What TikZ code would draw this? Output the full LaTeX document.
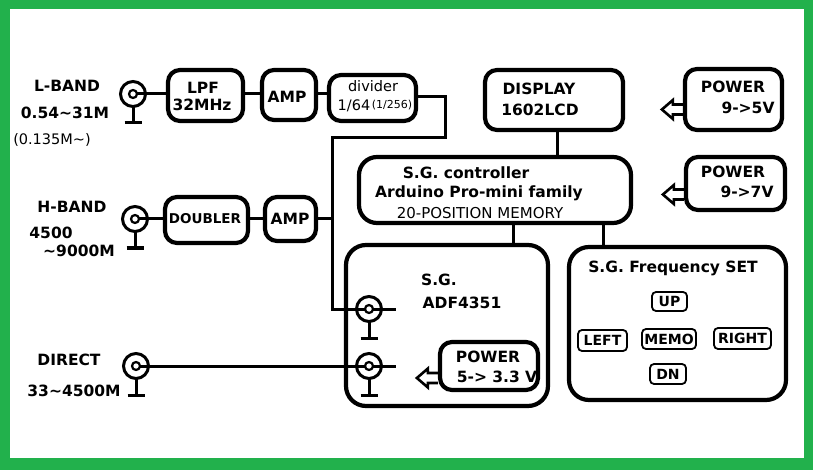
\documentclass[tikz,border=0pt]{standalone}
\usepackage{fontspec}
\setmainfont{DejaVu Sans}
\definecolor{framegreen}{RGB}{34,177,76}
\begin{document}
\begin{tikzpicture}[x=1pt,y=-1pt,
  bx/.style={draw, line width=4.2pt, rounded corners=12pt, inner sep=0pt},
  bigbx/.style={bx, rounded corners=20pt},
  btn/.style={draw, line width=1.8pt, rounded corners=4pt, inner sep=0pt, font=\fontsize{14}{16}\selectfont\bfseries},
  wire/.style={line width=3pt},
  harrow/.style={line width=2.6pt, line join=miter},
  lbl/.style={inner sep=0pt, font=\fontsize{15.5}{18}\selectfont\bfseries},
  lblr/.style={inner sep=0pt, font=\fontsize{14.5}{16}\selectfont},
  bncconn/.pic={
    \draw[line width=3pt] (0,0) circle[radius=12.5pt];
    \draw[line width=3pt] (0,12) -- (0,29);
    \draw[line width=3pt] (-8.5,29) -- (8.5,29);
    \draw[line width=2.2pt, fill=white] (0,0) circle[radius=4pt];
  }]
\useasboundingbox (0,0) rectangle (813,470);
\fill[framegreen] (0,0) rectangle (813,470);
\fill[white] (10,9) rectangle (804,458);

% connectors positions
\coordinate (c1) at (133,94);
\coordinate (c2) at (135,219);
\coordinate (c3) at (136,366);
\coordinate (c4) at (369,309);
\coordinate (c5) at (369,366);
\coordinate (j1) at (445,138);
\coordinate (j2) at (332,138);

% boxes
\node[bx, minimum width=75pt, minimum height=51pt] (lpf) at (205.5,95.5) {};
\node[bx, minimum width=54pt, minimum height=50pt] (amp1) at (289,95) {};
\node[bx, minimum width=87pt, minimum height=46pt] (div) at (372.5,98) {};
\node[bx, minimum width=83pt, minimum height=46pt] (dbl) at (206.5,220) {};
\node[bx, minimum width=51pt, minimum height=44pt] (amp2) at (290.5,219) {};
\node[bx, minimum width=138pt, minimum height=60pt] (disp) at (554,100) {};
\node[bx, minimum width=97pt, minimum height=61pt] (pw1) at (733.5,99.5) {};
\node[bx, rounded corners=18pt, minimum width=272pt, minimum height=66pt] (ctrl) at (495,190) {};
\node[bx, minimum width=99pt, minimum height=53pt] (pw2) at (735.5,183.5) {};
\node[bigbx, minimum width=202pt, minimum height=161pt] (sg) at (447,325.5) {};
\node[bx, minimum width=98pt, minimum height=48pt] (pw3) at (489,366) {};
\node[bigbx, minimum width=217pt, minimum height=153pt] (freq) at (677.5,323.5) {};

% buttons
\node[btn, minimum width=35pt, minimum height=19pt] (up) at (669.5,301.5) {UP};
\node[btn, minimum width=49pt, minimum height=21pt] (left) at (602.5,340.5) {LEFT};
\node[btn, minimum width=54pt, minimum height=20pt] (memo) at (669,339) {MEMO};
\node[btn, minimum width=57pt, minimum height=21pt] (right) at (742.5,338.5) {RIGHT};
\node[btn, minimum width=36pt, minimum height=20pt] (dn) at (668,374) {DN};

% wires
\draw[wire] (c1) -- (lpf.west |- c1);
\draw[wire] (lpf.east |- c1) -- (amp1.west |- c1);
\draw[wire] (amp1.east |- c1) -- (div.west |- c1);
\draw[wire] (div.east |- 0,97) -| (j1) -- (j2) |- (c4);
\draw[wire] (c4) -- ++(27,0);
\draw[wire] (c2) -- (dbl.west |- c2);
\draw[wire] (dbl.east |- c2) -- (amp2.west |- c2);
\draw[wire] (amp2.east |- c2) -- (j2 |- c2);
\draw[wire] (c3) -- (c5) -- ++(27,0);
\draw[wire] ([xshift=3pt]disp.south) -- ([xshift=3pt]disp.south |- ctrl.north);
\draw[wire] ([xshift=18pt]ctrl.south) -- ([xshift=18pt]ctrl.south |- sg.north);
\draw[wire] ([xshift=108pt]ctrl.south) -- ([xshift=108pt]ctrl.south |- freq.north);

% hollow arrows
\draw[harrow] ([yshift=-5pt]pw1.west) -- ++(-10,0) -- ++(0,-4.5) -- ++(-11,9.5) -- ++(11,9.5) -- ++(0,-4.5) -- ++(10,0);
\draw[harrow] ([yshift=-6pt]pw2.west) -- ++(-10,0) -- ++(0,-4.5) -- ++(-11,9.5) -- ++(11,9.5) -- ++(0,-4.5) -- ++(10,0);
\draw[harrow] ([yshift=-7pt]pw3.west) -- ++(-10,0) -- ++(0,-4.5) -- ++(-11,9.5) -- ++(11,9.5) -- ++(0,-4.5) -- ++(10,0);

% connector symbols
\pic at (c1) {bncconn};
\pic at (c2) {bncconn};
\pic at (c3) {bncconn};
\pic at (c4) {bncconn};
\pic at (c5) {bncconn};

% labels
\node[lbl] (t1) at (67,86) {L-BAND};
\node[lbl] (t2) at (65,113) {0.54\textasciitilde31M};
\node[lblr] (t3) at (52,140) {(0.135M\textasciitilde)};
\node[lbl] (t4) at (72,207) {H-BAND};
\node[lbl] (t5) at (51,233) {4500};
\node[lbl] (t6) at (79,251) {\textasciitilde9000M};
\node[lbl] (t7) at (69,360) {DIRECT};
\node[lbl] (t8) at (74,391) {33\textasciitilde4500M};

\node[lbl] (t9) at (203,88) {LPF};
\node[lbl] (t10) at (202,105) {32MHz};
\node[lbl] (t11) at (287,97) {AMP};
\node[lblr] (t12) at (373,86) {divider};
\node[lblr] (t13) at (354,106) {1/64};
\node[lblr, font=\fontsize{11}{12}\selectfont] (t14) at (392,105) {(1/256)};
\node[lbl, font=\fontsize{13.5}{15}\selectfont\bfseries] (t15) at (205,219) {DOUBLER};
\node[lbl] (t16) at (290,219) {AMP};

\node[lbl] (t17) at (539,89) {DISPLAY};
\node[lbl] (t18) at (540,110) {1602LCD};
\node[lbl] (t19) at (733,87) {POWER};
\node[lbl] (t20) at (748,108) {9->5V};
\node[lbl] (t21) at (733,172) {POWER};
\node[lbl] (t22) at (747,192) {9->7V};

\node[lbl] (t23) at (466,173) {S.G. controller};
\node[lbl] (t24) at (479,193) {Arduino Pro-mini family};
\node[lblr, font=\fontsize{15}{16}\selectfont] (t25) at (480,213) {20-POSITION MEMORY};

\node[lbl] (t26) at (439,280) {S.G.};
\node[lbl] (t27) at (462,303) {ADF4351};
\node[lbl] (t28) at (488,357) {POWER};
\node[lbl] (t29) at (497,377) {5-> 3.3 V};

\node[lbl] (t30) at (673,268) {S.G. Frequency SET};
\end{tikzpicture}
\end{document}
